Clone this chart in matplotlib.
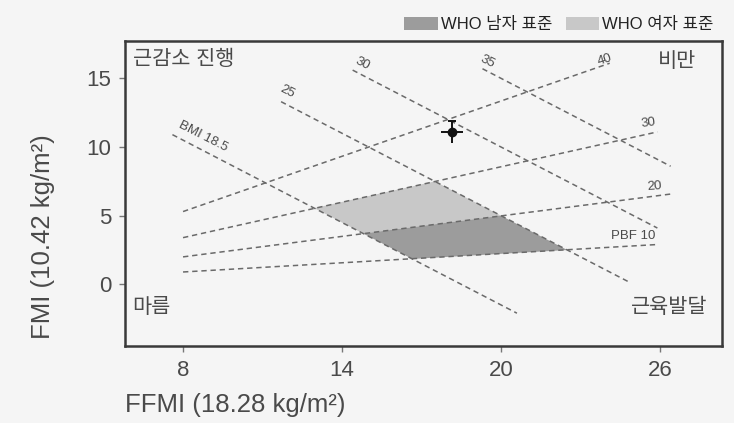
import matplotlib.pyplot as plt
from matplotlib.patches import Patch

plt.rcParams['font.family'] = ['Liberation Sans', 'Noto Sans CJK KR', 'DejaVu Sans']

# BMI iso-lines (FFMI / FMI at both ends)
bmi_labels = ["BMI 18.5", "25", "30", "35"]
bmi_ffmi = [[7.6, 20.6], [11.7, 24.9], [14.4, 25.9], [19.3, 26.4]]
bmi_fmi = [[10.9, -2.1], [13.3, 0.1], [15.6, 4.1], [15.7, 8.6]]

# body fat percentage lines
pbf_labels = ["PBF 10", "20", "30", "40"]
pbf_ffmi = [[8.0, 25.9], [8.0, 26.5], [8.0, 25.9], [8.0, 24.1]]
pbf_fmi = [[0.9, 2.9], [2.0, 6.6], [3.4, 11.1], [5.3, 16.1]]

# WHO standard areas
male_ffmi = [14.8, 16.65, 22.5, 20.0]
male_fmi = [3.7, 1.85, 2.5, 5.0]
female_ffmi = [12.95, 14.8, 20.0, 17.5]
female_fmi = [5.55, 3.7, 5.0, 7.5]

# measured point
point_ffmi = 18.15
point_fmi = 11.1
point_ffmi_err = 0.43
point_fmi_err = 0.8

x_ticks = [8, 14, 20, 26]
y_ticks = [0, 5, 10, 15]

bg = '#f5f5f5'
line_col = '#6a6a6a'
text_col = '#4a4a4a'
male_col = '#9c9c9c'
female_col = '#c8c8c8'

fig = plt.figure(figsize=(7.34, 4.23), dpi=100, facecolor=bg)
ax = fig.add_axes([0.1703, 0.182, 0.8134, 0.7211])
ax.set_facecolor(bg)

ax.fill(female_ffmi, female_fmi, color=female_col, lw=0, zorder=1)
ax.fill(male_ffmi, male_fmi, color=male_col, lw=0, zorder=1)

for i in range(len(bmi_labels)):
    ax.plot(bmi_ffmi[i], bmi_fmi[i], color=line_col, lw=1.1, ls=(0, (3.5, 2.5)), zorder=2)
for i in range(len(pbf_labels)):
    ax.plot(pbf_ffmi[i], pbf_fmi[i], color=line_col, lw=1.1, ls=(0, (3.5, 2.5)), zorder=2)

# line labels
bmi_label_pos = [(8.75, 10.75, -27), (11.95, 14.0, -27), (14.75, 16.05, -27), (19.5, 16.25, -27)]
for lab, (x, y, r) in zip(bmi_labels, bmi_label_pos):
    ax.text(x, y, lab, fontsize=9.5, color=text_col, rotation=r, ha='center', va='center',
            rotation_mode='anchor', zorder=3)
pbf_label_pos = [(24.98, 3.5, 0), (25.8, 7.1, 4), (25.55, 11.75, 8), (23.9, 16.35, 18)]
for lab, (x, y, r) in zip(pbf_labels, pbf_label_pos):
    ax.text(x, y, lab, fontsize=9.5, color=text_col, rotation=r, ha='center', va='center',
            rotation_mode='anchor', zorder=3)

ax.errorbar(point_ffmi, point_fmi, xerr=point_ffmi_err, yerr=point_fmi_err, fmt='o',
            color='#111111', ms=6, elinewidth=1.4, capsize=0, zorder=5)
ax.plot(point_ffmi, point_fmi + point_fmi_err, marker='_', ms=6, mew=1.4, color='#111111', zorder=5)

# corner labels
ax.text(6.1, 16.4, "근감소 진행", fontsize=15, color=text_col, ha='left', va='center')
ax.text(26.65, 16.2, "비만", fontsize=15, color=text_col, ha='center', va='center')
ax.text(6.1, -1.65, "마름", fontsize=15, color=text_col, ha='left', va='center')
ax.text(27.8, -1.65, "근육발달", fontsize=15, color=text_col, ha='right', va='center')

ax.set_xlim(5.81, 28.34)
ax.set_ylim(-4.49, 17.72)
ax.set_xticks(x_ticks)
ax.set_yticks(y_ticks)
ax.tick_params(direction='out', length=4, width=1, color='#777777', labelcolor=text_col,
               labelsize=16, pad=6)
for s in ax.spines.values():
    s.set_color('#3a3a3a')
    s.set_linewidth(1.8)

ax.set_xlabel("FFMI (18.28 kg/m²)", fontsize=18.5, color=text_col, loc='left', labelpad=9)
ax.set_ylabel("FMI (10.42 kg/m²)", fontsize=18.5, color=text_col)
ax.yaxis.set_label_coords(-0.117, 0.36)

handles = [Patch(facecolor=male_col, edgecolor='none'), Patch(facecolor=female_col, edgecolor='none')]
fig.legend(handles, ["WHO 남자 표준", "WHO 여자 표준"], ncol=2, frameon=False, loc='upper right',
           bbox_to_anchor=(0.993, 0.995), fontsize=12, handlelength=2.0, handleheight=0.8,
           handletextpad=0.2, columnspacing=0.8, labelcolor='#222222')

fig.savefig('out.png', dpi=100, facecolor=bg)
